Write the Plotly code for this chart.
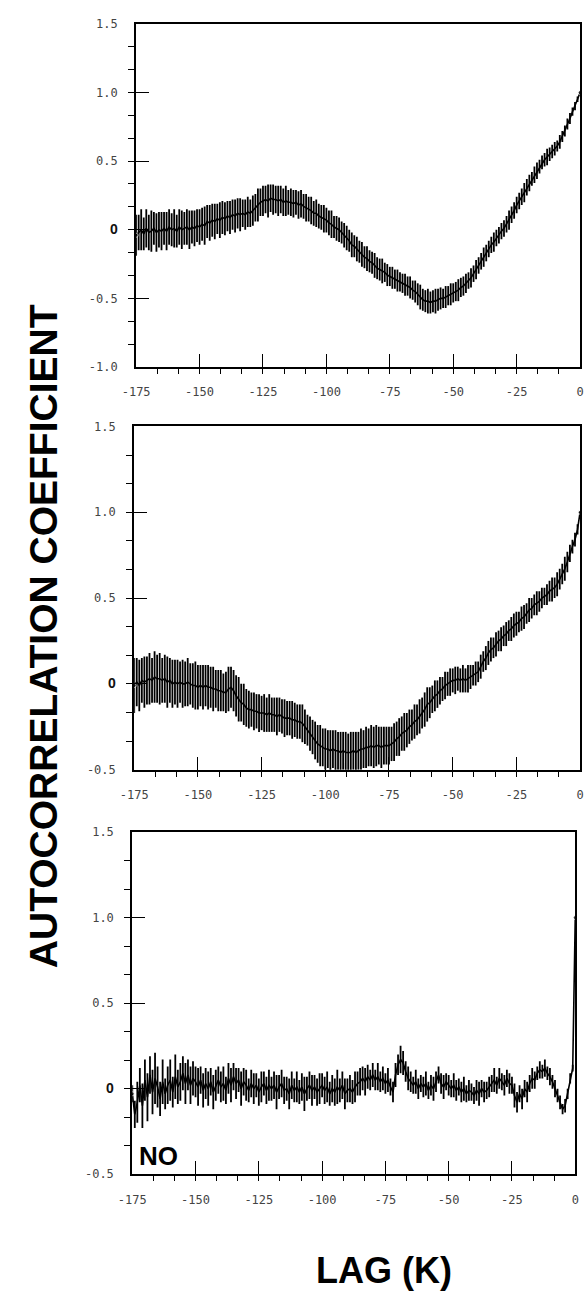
import plotly.graph_objects as go

# ---------------- data ----------------
lags = list(range(-175, 1))

# Panel 1 (top)
p1_r = [-0.04,
    -0.02, 0.00, -0.03, 0.01, -0.02,
    -0.01, 0.01, -0.02, 0.00, -0.01,
    0.01, -0.01, 0.02, 0.00, 0.01,
    -0.01, 0.02, 0.00, 0.01, 0.02,
    0.00, 0.02, 0.01, 0.03, 0.02,
    0.04, 0.03, 0.06, 0.05, 0.07,
    0.06, 0.08, 0.07, 0.09, 0.08,
    0.10, 0.09, 0.11, 0.10, 0.12,
    0.11, 0.12, 0.11, 0.13, 0.12,
    0.14, 0.16, 0.18, 0.20, 0.21,
    0.22, 0.21, 0.23, 0.22, 0.22,
    0.21, 0.22, 0.20, 0.21, 0.20,
    0.20, 0.19, 0.20, 0.18, 0.19,
    0.17, 0.16, 0.15, 0.14, 0.12,
    0.12, 0.10, 0.09, 0.08, 0.07,
    0.05, 0.04, 0.02, 0.01, 0.00,
    -0.02, -0.04, -0.06, -0.08, -0.11,
    -0.12, -0.14, -0.16, -0.18, -0.20,
    -0.21, -0.23, -0.24, -0.26, -0.28,
    -0.29, -0.30, -0.31, -0.33, -0.34,
    -0.35, -0.36, -0.37, -0.38, -0.39,
    -0.40, -0.41, -0.42, -0.44, -0.45,
    -0.47, -0.49, -0.51, -0.52, -0.52,
    -0.53, -0.52, -0.52, -0.51, -0.50,
    -0.50, -0.49, -0.48, -0.47, -0.46,
    -0.45, -0.44, -0.42, -0.41, -0.39,
    -0.37, -0.35, -0.32, -0.29, -0.26,
    -0.23, -0.20, -0.17, -0.14, -0.11,
    -0.09, -0.06, -0.04, -0.01, 0.01,
    0.04, 0.07, 0.11, 0.14, 0.18,
    0.21, 0.24, 0.27, 0.31, 0.34,
    0.37, 0.40, 0.43, 0.46, 0.49,
    0.51, 0.53, 0.55, 0.57, 0.59,
    0.61, 0.64, 0.68, 0.72, 0.77,
    0.81, 0.86, 0.90, 0.95, 1.00]
p1_err = [0.15, 0.13, 0.15, 0.12, 0.14,
    0.13, 0.15, 0.12, 0.14, 0.13,
    0.14, 0.12, 0.14, 0.13, 0.12,
    0.14, 0.12, 0.13, 0.14, 0.12,
    0.13, 0.14, 0.12, 0.13, 0.12,
    0.13, 0.12, 0.14, 0.12, 0.13,
    0.12, 0.13, 0.11, 0.13, 0.12,
    0.12, 0.11, 0.12, 0.11, 0.12,
    0.11, 0.12, 0.10, 0.11, 0.11,
    0.10, 0.11, 0.10, 0.12, 0.10,
    0.11, 0.10, 0.12, 0.10, 0.11,
    0.10, 0.11, 0.10, 0.10, 0.11,
    0.09, 0.10, 0.10, 0.09, 0.10,
    0.10, 0.09, 0.10, 0.09, 0.10,
    0.09, 0.10, 0.09, 0.09, 0.10,
    0.09, 0.09, 0.10, 0.08, 0.09,
    0.09, 0.08, 0.09, 0.09, 0.08,
    0.09, 0.08, 0.09, 0.08, 0.09,
    0.08, 0.09, 0.08, 0.08, 0.09,
    0.08, 0.08, 0.09, 0.07, 0.08,
    0.07, 0.08, 0.07, 0.08, 0.07,
    0.07, 0.08, 0.07, 0.08, 0.07,
    0.08, 0.08, 0.09, 0.08, 0.08,
    0.09, 0.08, 0.08, 0.09, 0.08,
    0.08, 0.07, 0.08, 0.07, 0.08,
    0.07, 0.07, 0.08, 0.07, 0.07,
    0.07, 0.06, 0.07, 0.06, 0.07,
    0.06, 0.06, 0.07, 0.06, 0.06,
    0.06, 0.07, 0.06, 0.06, 0.06,
    0.06, 0.06, 0.07, 0.06, 0.06,
    0.06, 0.06, 0.06, 0.07, 0.06,
    0.06, 0.05, 0.06, 0.06, 0.05,
    0.05, 0.05, 0.06, 0.05, 0.05,
    0.05, 0.04, 0.05, 0.04, 0.04,
    0.04, 0.04, 0.03, 0.03, 0.02,
    0.00]

# Panel 2 (middle)
p2_r = [-0.01,
    0.01, -0.01, 0.02, 0.01, 0.02,
    0.03, 0.02, 0.04, 0.03, 0.03,
    0.02, 0.03, 0.01, 0.02, 0.00,
    0.01, 0.00, 0.01, 0.00, 0.00,
    0.01, 0.00, -0.01, -0.01, -0.02,
    -0.01, -0.02, -0.01, -0.02, -0.02,
    -0.03, -0.03, -0.04, -0.04, -0.05,
    -0.05, -0.03, -0.02, -0.04, -0.07,
    -0.09, -0.11, -0.12, -0.14, -0.15,
    -0.15, -0.16, -0.16, -0.17, -0.17,
    -0.17, -0.18, -0.17, -0.18, -0.18,
    -0.19, -0.18, -0.19, -0.20, -0.20,
    -0.20, -0.21, -0.21, -0.22, -0.22,
    -0.23, -0.25, -0.27, -0.29, -0.31,
    -0.33, -0.35, -0.36, -0.37, -0.38,
    -0.38, -0.39, -0.38, -0.39, -0.39,
    -0.40, -0.39, -0.40, -0.40, -0.40,
    -0.39, -0.40, -0.39, -0.38, -0.38,
    -0.37, -0.37, -0.36, -0.37, -0.36,
    -0.36, -0.37, -0.36, -0.36, -0.36,
    -0.35, -0.34, -0.32, -0.31, -0.29,
    -0.28, -0.27, -0.25, -0.24, -0.22,
    -0.21, -0.19, -0.17, -0.15, -0.12,
    -0.11, -0.09, -0.07, -0.06, -0.04,
    -0.03, -0.01, 0.00, 0.01, 0.02,
    0.02, 0.03, 0.02, 0.03, 0.02,
    0.03, 0.04, 0.05, 0.06, 0.07,
    0.10, 0.13, 0.15, 0.18, 0.20,
    0.21, 0.23, 0.25, 0.26, 0.28,
    0.29, 0.31, 0.32, 0.34, 0.35,
    0.36, 0.38, 0.39, 0.41, 0.43,
    0.44, 0.46, 0.47, 0.48, 0.50,
    0.51, 0.52, 0.54, 0.55, 0.56,
    0.58, 0.61, 0.64, 0.67, 0.71,
    0.76, 0.80, 0.84, 0.90, 1.00]
p2_err = [0.16, 0.14, 0.15, 0.13, 0.15,
    0.14, 0.15, 0.13, 0.15, 0.14,
    0.15, 0.13, 0.14, 0.15, 0.13,
    0.14, 0.13, 0.14, 0.12, 0.14,
    0.13, 0.14, 0.12, 0.13, 0.14,
    0.13, 0.12, 0.13, 0.12, 0.13,
    0.12, 0.13, 0.11, 0.12, 0.12,
    0.11, 0.12, 0.13, 0.12, 0.12,
    0.12, 0.13, 0.11, 0.12, 0.11,
    0.11, 0.10, 0.11, 0.10, 0.11,
    0.10, 0.11, 0.10, 0.11, 0.10,
    0.10, 0.11, 0.10, 0.10, 0.11,
    0.10, 0.10, 0.11, 0.10, 0.10,
    0.10, 0.11, 0.10, 0.09, 0.10,
    0.10, 0.11, 0.11, 0.12, 0.11,
    0.12, 0.11, 0.12, 0.11, 0.12,
    0.11, 0.12, 0.11, 0.12, 0.11,
    0.12, 0.11, 0.12, 0.11, 0.12,
    0.11, 0.12, 0.11, 0.12, 0.12,
    0.12, 0.11, 0.12, 0.11, 0.11,
    0.11, 0.10, 0.11, 0.10, 0.11,
    0.10, 0.11, 0.10, 0.10, 0.09,
    0.10, 0.09, 0.10, 0.09, 0.10,
    0.10, 0.09, 0.08, 0.09, 0.08,
    0.08, 0.07, 0.08, 0.07, 0.08,
    0.07, 0.08, 0.07, 0.07, 0.08,
    0.07, 0.08, 0.07, 0.06, 0.07,
    0.06, 0.07, 0.06, 0.07, 0.07,
    0.07, 0.06, 0.07, 0.06, 0.07,
    0.06, 0.07, 0.06, 0.07, 0.07,
    0.07, 0.06, 0.07, 0.07, 0.06,
    0.07, 0.06, 0.06, 0.07, 0.06,
    0.06, 0.05, 0.06, 0.06, 0.07,
    0.06, 0.07, 0.06, 0.06, 0.07,
    0.06, 0.05, 0.04, 0.04, 0.03,
    0.00]

# Panel 3 (bottom, "NO")
p3_r = [-0.03,
    -0.15, -0.08, 0.02, -0.10, 0.05,
    -0.05, 0.08, -0.02, 0.06, 0.01,
    -0.06, 0.04, -0.03, 0.02, 0.05,
    -0.02, 0.07, 0.01, 0.04, 0.09,
    0.03, 0.08, 0.02, 0.06, 0.04,
    0.01, 0.05, -0.01, 0.03, 0.00,
    0.04, -0.02, 0.02, 0.05, 0.01,
    0.03, -0.01, 0.06, 0.02, 0.07,
    0.03, 0.05, 0.00, 0.04, 0.02,
    -0.01, 0.03, 0.00, 0.02, -0.02,
    0.01, 0.03, -0.01, 0.02, 0.00,
    0.02, -0.02, 0.01, 0.03, -0.01,
    0.00, -0.03, 0.02, -0.01, 0.01,
    -0.02, 0.01, -0.03, 0.00, 0.02,
    -0.01, 0.01, -0.02, 0.00, 0.02,
    -0.01, 0.01, -0.03, 0.00, -0.02,
    0.01, -0.01, 0.02, -0.03, -0.01,
    0.00, -0.02, 0.01, 0.03, 0.04,
    0.06, 0.04, 0.07, 0.05, 0.08,
    0.05, 0.07, 0.04, 0.06, 0.03,
    0.05, 0.01, -0.02, 0.08, 0.14,
    0.17, 0.15, 0.10, 0.06, 0.04,
    0.02, 0.04, 0.00, 0.03, 0.01,
    0.03, -0.01, 0.02, 0.00, 0.04,
    0.08, 0.03, 0.01, 0.04, 0.02,
    0.00, 0.02, -0.01, 0.01, -0.02,
    0.00, -0.03, -0.01, -0.02, -0.04,
    -0.01, -0.03, 0.00, -0.02, -0.01,
    0.01, 0.03, 0.05, 0.02, 0.06,
    0.04, 0.02, 0.06, 0.03, 0.02,
    -0.04, -0.08, -0.03, -0.06, 0.00,
    -0.02, 0.03, 0.06, 0.05, 0.09,
    0.11, 0.10, 0.12, 0.09, 0.07,
    0.04, 0.00, -0.04, -0.08, -0.12,
    -0.10, -0.03, 0.06, 0.12, 1.00]
p3_err = [0.05, 0.08, 0.12, 0.10, 0.13,
    0.12, 0.14, 0.11, 0.13, 0.15,
    0.12, 0.10, 0.13, 0.09, 0.11,
    0.12, 0.09, 0.13, 0.10, 0.11,
    0.10, 0.12, 0.09, 0.11, 0.10,
    0.09, 0.11, 0.08, 0.10, 0.09,
    0.10, 0.08, 0.10, 0.09, 0.08,
    0.09, 0.10, 0.08, 0.09, 0.10,
    0.08, 0.09, 0.07, 0.10, 0.08,
    0.09, 0.07, 0.08, 0.09, 0.07,
    0.08, 0.09, 0.07, 0.08, 0.09,
    0.07, 0.08, 0.10, 0.07, 0.08,
    0.08, 0.07, 0.09, 0.08, 0.07,
    0.09, 0.07, 0.08, 0.10, 0.07,
    0.08, 0.09, 0.07, 0.08, 0.09,
    0.07, 0.08, 0.09, 0.07, 0.08,
    0.08, 0.10, 0.07, 0.08, 0.09,
    0.07, 0.08, 0.07, 0.09, 0.07,
    0.08, 0.07, 0.08, 0.07, 0.06,
    0.07, 0.06, 0.08, 0.06, 0.07,
    0.06, 0.07, 0.05, 0.06, 0.07,
    0.06, 0.08, 0.07, 0.06, 0.07,
    0.06, 0.05, 0.07, 0.06, 0.05,
    0.06, 0.07, 0.05, 0.06, 0.07,
    0.06, 0.05, 0.06, 0.07, 0.05,
    0.06, 0.05, 0.07, 0.06, 0.05,
    0.06, 0.07, 0.05, 0.06, 0.05,
    0.05, 0.06, 0.07, 0.05, 0.06,
    0.05, 0.06, 0.05, 0.07, 0.05,
    0.06, 0.05, 0.06, 0.05, 0.06,
    0.05, 0.07, 0.06, 0.05, 0.06,
    0.05, 0.06, 0.05, 0.06, 0.05,
    0.04, 0.05, 0.04, 0.05, 0.04,
    0.05, 0.04, 0.05, 0.04, 0.04,
    0.03, 0.04, 0.03, 0.03, 0.02,
    0.00]

x_tickvals = [-175, -150, -125, -100, -75, -50, -25, 0]
x_ticktext = ["-175", "-150", "-125", "-100", "-75", "-50", "-25", "0"]
y1_tickvals = [-1.0, -0.5, 0, 0.5, 1.0, 1.5]
y1_ticktext = ["-1.0", "-0.5", "0", "0.5", "1.0", "1.5"]
y_tickvals = [-0.5, 0, 0.5, 1.0, 1.5]
y_ticktext = ["-0.5", "0", "0.5", "1.0", "1.5"]

for arr in (p1_r, p1_err, p2_r, p2_err, p3_r, p3_err):
    assert len(arr) == len(lags), len(arr)

# ---------------- layout helpers ----------------
W, H = 587, 1292
panels = [  # left, right, top, bottom in px
    (126, 584, 17, 364),
    (124, 584, 424, 771),
    (122, 579, 834, 1180),
]

def fmt_y(t):
    if t == "0":
        return "<b><span style='font-family:Liberation Sans;font-size:14px;color:#111'>0</span></b>"
    return t

fig = go.Figure()
series = [(p1_r, p1_err), (p2_r, p2_err), (p3_r, p3_err)]
for i, (r, e) in enumerate(series):
    n = i + 1
    sizes = [4 if (k == 0 or k == len(lags) - 1) else 0 for k in range(len(lags))]
    fig.add_trace(go.Scatter(
        x=lags, y=r, mode="lines+markers",
        line=dict(color="black", width=1.6),
        marker=dict(color="black", size=sizes),
        error_y=dict(type="data", array=e, width=0, thickness=1.8, color="black"),
        xaxis="x" if n == 1 else f"x{n}", yaxis="y" if n == 1 else f"y{n}",
        showlegend=False, hoverinfo="skip"))

tickfont = dict(family="DejaVu Sans Mono", size=12, color="#444")
for i, (l, rr, t, b) in enumerate(panels):
    n = i + 1
    xk = "xaxis" if n == 1 else f"xaxis{n}"
    yk = "yaxis" if n == 1 else f"yaxis{n}"
    yv, yt = (y1_tickvals, y1_ticktext) if n == 1 else (y_tickvals, y_ticktext)
    yr = [-1.0, 1.5] if n == 1 else [-0.5, 1.5]
    fig.update_layout(**{
        xk: dict(domain=[l / W, rr / W], range=[-175, 0], anchor="y" if n == 1 else f"y{n}",
                 showgrid=False, zeroline=False, showline=True, linecolor="black",
                 linewidth=2, mirror=True, ticks="inside", ticklen=13, tickwidth=1.3,
                 tickcolor="black", tickvals=x_tickvals, ticktext=x_ticktext,
                 tickfont=tickfont, ticklabelstandoff=13,
                 minor=dict(ticks="outside", ticklen=5, tickwidth=1.2, tickcolor="black",
                            tick0=0, dtick=25 / 3, showgrid=False)),
        yk: dict(domain=[1 - b / H, 1 - t / H], range=yr, anchor="x" if n == 1 else f"x{n}",
                 showgrid=False, zeroline=False, showline=True, linecolor="black",
                 linewidth=2, mirror=True, ticks="inside", ticklen=13, tickwidth=1.3,
                 tickcolor="black", tickvals=yv, ticktext=[fmt_y(s) for s in yt],
                 tickfont=tickfont, ticklabelstandoff=14,
                 minor=dict(ticks="outside", ticklen=6, tickwidth=1.2, tickcolor="black",
                            tick0=0, dtick=0.5 / 3, showgrid=False)),
    })

fig.update_layout(
    width=W, height=H, margin=dict(l=0, r=0, t=0, b=0),
    paper_bgcolor="white", plot_bgcolor="white",
    annotations=[
        dict(text="<b>AUTOCORRELATION COEFFICIENT</b>", x=30 / W, y=1 - 636 / H,
             xref="paper", yref="paper", textangle=-90, showarrow=False,
             font=dict(family="Liberation Sans", size=39, color="black"),
             xanchor="center", yanchor="middle"),
        dict(text="<b>LAG (K)</b>", x=382 / W, y=1 - 1277 / H,
             xref="paper", yref="paper", showarrow=False,
             font=dict(family="Liberation Sans", size=36, color="black"),
             xanchor="center", yanchor="middle"),
        dict(text="<b>NO</b>", x=149 / W, y=1 - 1162 / H,
             xref="paper", yref="paper", showarrow=False,
             font=dict(family="Liberation Sans", size=26, color="black"),
             xanchor="center", yanchor="middle"),
    ],
)

fig.write_html("out.html", config={"displayModeBar": False},
               post_script="document.body.style.margin='0px';document.body.style.overflow='hidden';")
